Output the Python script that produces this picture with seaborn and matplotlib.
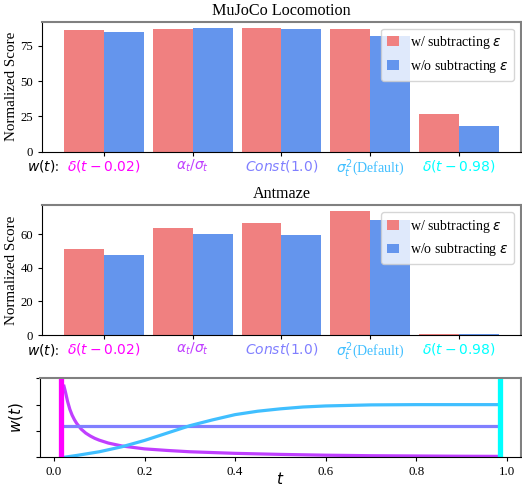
import numpy as np
import pandas as pd
import matplotlib
matplotlib.use("Agg")
import matplotlib.pyplot as plt
import matplotlib.transforms as mtransforms
import seaborn as sns

# ---------------- data ----------------
weight_labels = [r'$\delta(t-0.02)$', r'$\alpha_t/\sigma_t$', r'$Const(1.0)$',
                 r'$\sigma_t^2$(Default)', r'$\delta(t-0.98)$']
series_names = [r'w/ subtracting $\epsilon$', r'w/o subtracting $\epsilon$']

mujoco_with = [86.4, 87.1, 87.8, 87.1, 26.8]
mujoco_without = [85.0, 87.8, 87.1, 82.2, 18.3]
antmaze_with = [51.0, 63.6, 66.6, 73.8, 0.8]
antmaze_without = [47.4, 60.0, 59.4, 68.4, 0.8]

# w(t) curves
t_alpha = [0.022, 0.025, 0.03, 0.035, 0.04, 0.045, 0.05, 0.06, 0.07, 0.08,
           0.09, 0.10, 0.12, 0.15, 0.20, 0.25, 0.30, 0.35, 0.40, 0.50, 0.60,
           0.70, 0.80, 0.90, 0.98]
w_alpha = [2.70, 2.50, 2.12, 1.82, 1.60, 1.43, 1.29, 1.07, 0.92, 0.81,
           0.72, 0.65, 0.54, 0.43, 0.32, 0.26, 0.21, 0.18, 0.15, 0.11, 0.08,
           0.06, 0.05, 0.04, 0.035]
t_sigma = [0.022, 0.05, 0.10, 0.15, 0.20, 0.25, 0.30, 0.35, 0.40, 0.45, 0.50,
           0.55, 0.60, 0.70, 0.80, 0.90, 0.98]
w_sigma = [0.00, 0.07, 0.21, 0.40, 0.64, 0.92, 1.20, 1.42, 1.62, 1.75, 1.84,
           1.91, 1.95, 1.99, 2.00, 2.00, 2.00]
t_const = [0.022, 0.98]
w_const = [1.20, 1.20]
delta_positions = [0.015, 0.985]

# ---------------- style ----------------
plt.rcParams['font.family'] = ['Liberation Serif', 'DejaVu Serif']
plt.rcParams['mathtext.fontset'] = 'dejavusans'

cool = plt.get_cmap('cool')
label_colors = [cool(1.0), cool(0.75), cool(0.5), cool(0.25), cool(0.0)]
bar_colors = ['#F08080', '#6495ED']

fig = plt.figure(figsize=(5.22, 4.87), dpi=100)
ax1 = fig.add_axes([0.081, 0.6885, 0.9165, 0.2669])
ax2 = fig.add_axes([0.081, 0.3121, 0.9165, 0.2669])
ax3 = fig.add_axes([0.0766, 0.0610, 0.9209, 0.1622])


def style_spines(ax):
    for s in ['top', 'right']:
        ax.spines[s].set_color('#808080')
        ax.spines[s].set_linewidth(1.5)
    for s in ['left', 'bottom']:
        ax.spines[s].set_color('black')
        ax.spines[s].set_linewidth(0.8)


def bar_panel(ax, with_vals, without_vals, title, yticks):
    df = pd.DataFrame({
        'weight': weight_labels * 2,
        'score': list(with_vals) + list(without_vals),
        'variant': [series_names[0]] * 5 + [series_names[1]] * 5,
    })
    sns.barplot(data=df, x='weight', y='score', hue='variant',
                order=weight_labels, hue_order=series_names,
                palette=bar_colors, width=0.9, saturation=1,
                errorbar=None, linewidth=0, ax=ax)
    ax.set_xlim(-0.695, 4.695)
    ax.set_title(title, fontsize=11.6, pad=5)
    ax.set_ylabel('Normalized Score', fontsize=10.8, labelpad=2)
    ax.set_xlabel('')
    ax.set_yticks(yticks)
    ax.tick_params(axis='y', labelsize=9.2, length=3)
    ax.tick_params(axis='x', labelsize=10, length=3, pad=1.2)
    for lbl, c in zip(ax.get_xticklabels(), label_colors):
        lbl.set_color(c)
    handles, labels = ax.get_legend_handles_labels()
    ax.legend(handles, labels, loc='upper right', fontsize=10,
              handlelength=0.85)
    trans = mtransforms.blended_transform_factory(ax.transAxes, ax.transAxes)
    ax.text(-0.031, -0.05, r'$w(t)$:', transform=trans, ha='left', va='top',
            fontsize=10, color='black')
    style_spines(ax)


bar_panel(ax1, mujoco_with, mujoco_without, 'MuJoCo Locomotion', [0, 25, 50, 75])
bar_panel(ax2, antmaze_with, antmaze_without, 'Antmaze', [0, 20, 40, 60])

# ---------------- bottom panel ----------------
lw = 2.3
sns.lineplot(x=t_alpha, y=w_alpha, color=label_colors[1], lw=lw, ax=ax3)
sns.lineplot(x=t_const, y=w_const, color=label_colors[2], lw=lw, ax=ax3)
sns.lineplot(x=t_sigma, y=w_sigma, color=label_colors[3], lw=lw, ax=ax3)
ax3.axvline(delta_positions[0], color=label_colors[0], lw=3.8)
ax3.axvline(delta_positions[1], color=label_colors[4], lw=3.8)
ax3.set_xlim(-0.031, 1.031)
ax3.set_ylim(0, 3)
ax3.set_yticks([0, 1, 2, 3])
ax3.set_yticklabels([])
ax3.set_xticks([0.0, 0.2, 0.4, 0.6, 0.8, 1.0])
ax3.set_xticklabels(['0.0', '0.2', '0.4', '0.6', '0.8', '1.0'])
ax3.tick_params(axis='both', labelsize=9.4, length=3)
ax3.set_ylabel(r'$w(t)$', fontsize=11)
ax3.set_xlabel(r'$t$', fontsize=11, labelpad=-5)
style_spines(ax3)

fig.savefig('out.png', dpi=100)
